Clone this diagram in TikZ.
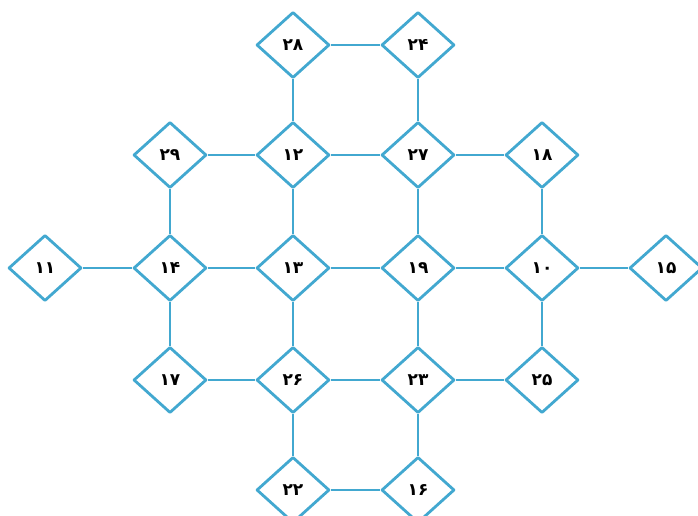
\documentclass[tikz,border=0pt]{standalone}
\usepackage{fontspec}
\newfontfamily\pfont{DejaVu Sans}
\usetikzlibrary{shapes.geometric}
\definecolor{dblue}{RGB}{66,168,208}
\begin{document}
\begin{tikzpicture}[x=1pt,y=-1pt,
  dnode/.style={shape=diamond, draw=dblue, line width=2.8pt, line join=round, fill=white,
    inner sep=0pt, minimum width=73pt, minimum height=66pt,
    font=\pfont\bfseries\fontsize{17}{17}\selectfont, text=black},
  link/.style={draw=dblue, line width=2.8pt}]
\useasboundingbox (0,0) rectangle (698,516);
% columns: 45,170,293,418,542,666 ; rows: 45,155,268,380,490
\node[dnode] (n28) at (293,45) {۲۸};
\node[dnode] (n24) at (418,45) {۲۴};
\node[dnode] (n29) at (170,155) {۲۹};
\node[dnode] (n12) at (293,155) {۱۲};
\node[dnode] (n27) at (418,155) {۲۷};
\node[dnode] (n18) at (542,155) {۱۸};
\node[dnode] (n11) at (45,268) {۱۱};
\node[dnode] (n14) at (170,268) {۱۴};
\node[dnode] (n13) at (293,268) {۱۳};
\node[dnode] (n19) at (418,268) {۱۹};
\node[dnode] (n10) at (542,268) {۱۰};
\node[dnode] (n15) at (666,268) {۱۵};
\node[dnode] (n17) at (170,380) {۱۷};
\node[dnode] (n26) at (293,380) {۲۶};
\node[dnode] (n23) at (418,380) {۲۳};
\node[dnode] (n25) at (542,380) {۲۵};
\node[dnode] (n22) at (293,490) {۲۲};
\node[dnode] (n16) at (418,490) {۱۶};
\path[link]
  (n28) -- (n24) (n28) -- (n12) (n24) -- (n27)
  (n29) -- (n12) (n12) -- (n27) (n27) -- (n18)
  (n29) -- (n14) (n12) -- (n13) (n27) -- (n19) (n18) -- (n10)
  (n11) -- (n14) (n14) -- (n13) (n13) -- (n19) (n19) -- (n10) (n10) -- (n15)
  (n14) -- (n17) (n13) -- (n26) (n19) -- (n23) (n10) -- (n25)
  (n17) -- (n26) (n26) -- (n23) (n23) -- (n25)
  (n26) -- (n22) (n23) -- (n16) (n22) -- (n16);
\end{tikzpicture}
\end{document}
